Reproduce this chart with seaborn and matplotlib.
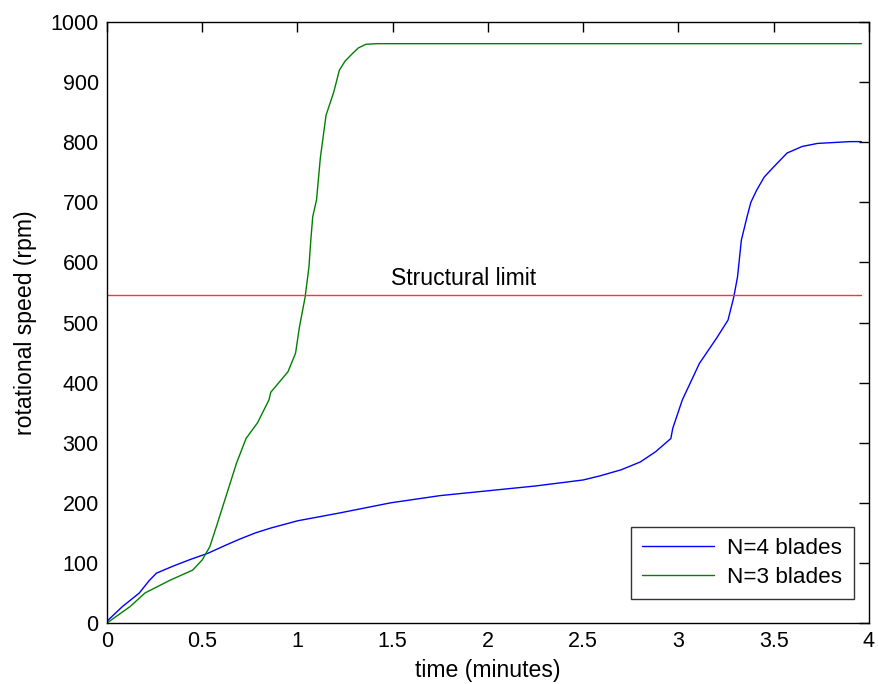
import matplotlib
matplotlib.use("Agg")
import matplotlib.pyplot as plt
import seaborn as sns
import pandas as pd

# Rotor spin-up for two blade counts (time in minutes, speed in rpm)
t_n4 = [0.0, 0.08, 0.17, 0.22, 0.26, 0.35, 0.44, 0.53, 0.62, 0.70, 0.78, 0.86,
        1.00, 1.22, 1.49, 1.75, 2.00, 2.25, 2.50, 2.59, 2.70, 2.80, 2.88,
        2.96, 2.97, 3.02, 3.11, 3.20, 3.26, 3.29, 3.31, 3.33, 3.36, 3.38,
        3.41, 3.45, 3.50, 3.57, 3.65, 3.73, 3.90, 3.96]
rpm_n4 = [3, 27, 50, 70, 83, 95, 106, 116, 129, 140, 150, 158,
          170, 183, 200, 212, 220, 228, 238, 245, 255, 268, 285,
          307, 324, 371, 432, 474, 504, 542, 576, 637, 676, 700,
          720, 742, 759, 782, 793, 798, 801, 801]

t_n3 = [0.0, 0.12, 0.20, 0.33, 0.45, 0.50, 0.54, 0.58, 0.63, 0.68, 0.73, 0.79,
        0.85, 0.86, 0.95, 0.99, 1.01, 1.04, 1.06, 1.07, 1.08, 1.10, 1.12, 1.15,
        1.19, 1.22, 1.25, 1.29, 1.32, 1.36, 1.42, 3.96]
rpm_n3 = [0, 27, 50, 71, 88, 105, 127, 166, 216, 266, 307, 333,
          371, 384, 418, 449, 492, 542, 592, 637, 676, 704, 774, 845,
          883, 920, 935, 948, 957, 963, 964, 964]

labels = ["N=4 blades", "N=3 blades"]
limit_rpm = 545
limit_span = [0.0, 3.96]
limit_text = "Structural limit"

sns.set_style("white")
plt.rcParams["font.family"] = ["Liberation Sans", "DejaVu Sans"]
plt.rcParams["font.size"] = 16
plt.rcParams["text.color"] = "black"
plt.rcParams["axes.labelcolor"] = "black"

df = pd.concat([
    pd.DataFrame({"t": t_n4, "rpm": rpm_n4, "series": labels[0]}),
    pd.DataFrame({"t": t_n3, "rpm": rpm_n3, "series": labels[1]}),
])

fig = plt.figure(figsize=(8.79, 6.84), dpi=100)
ax = fig.add_axes([0.1217, 0.0892, 0.8669, 0.8786])

sns.lineplot(data=df, x="t", y="rpm", hue="series", hue_order=labels,
             palette=["#0000ff", "#008000"], linewidth=1.0, ax=ax,
             estimator=None, sort=False)

ax.plot(limit_span, [limit_rpm, limit_rpm], color="#ff3333", linewidth=1.0)
ax.text(1.87, limit_rpm + 17, limit_text, ha="center", va="baseline",
        fontsize=16.6, color="black")

ax.set_xlim(0, 4)
ax.set_ylim(0, 1000)
ax.set_xticks([0, 0.5, 1, 1.5, 2, 2.5, 3, 3.5, 4])
ax.set_xticklabels(["0", "0.5", "1", "1.5", "2", "2.5", "3", "3.5", "4"])
ax.set_yticks(range(0, 1001, 100))
ax.set_xlabel("time (minutes)", fontsize=16.6, labelpad=4.5, color="black")
ax.set_ylabel("rotational speed (rpm)", fontsize=16.6, labelpad=10,
              color="black")

ax.tick_params(direction="in", length=7, width=1, top=True, right=True,
               labelsize=15.5, pad=6, colors="black")
for s in ax.spines.values():
    s.set_visible(True)
    s.set_color("black")
    s.set_linewidth(1.0)

leg = ax.legend(loc="lower right", bbox_to_anchor=(0.980, 0.0395),
                frameon=True, fancybox=False, edgecolor="black",
                fontsize=16.2, handlelength=3.2, handletextpad=0.6,
                borderpad=0.5, labelspacing=0.35, borderaxespad=0)
leg.get_frame().set_linewidth(1.0)
leg.set_title(None)
for txt in leg.get_texts():
    txt.set_color("black")

fig.savefig("out.png", dpi=100)
